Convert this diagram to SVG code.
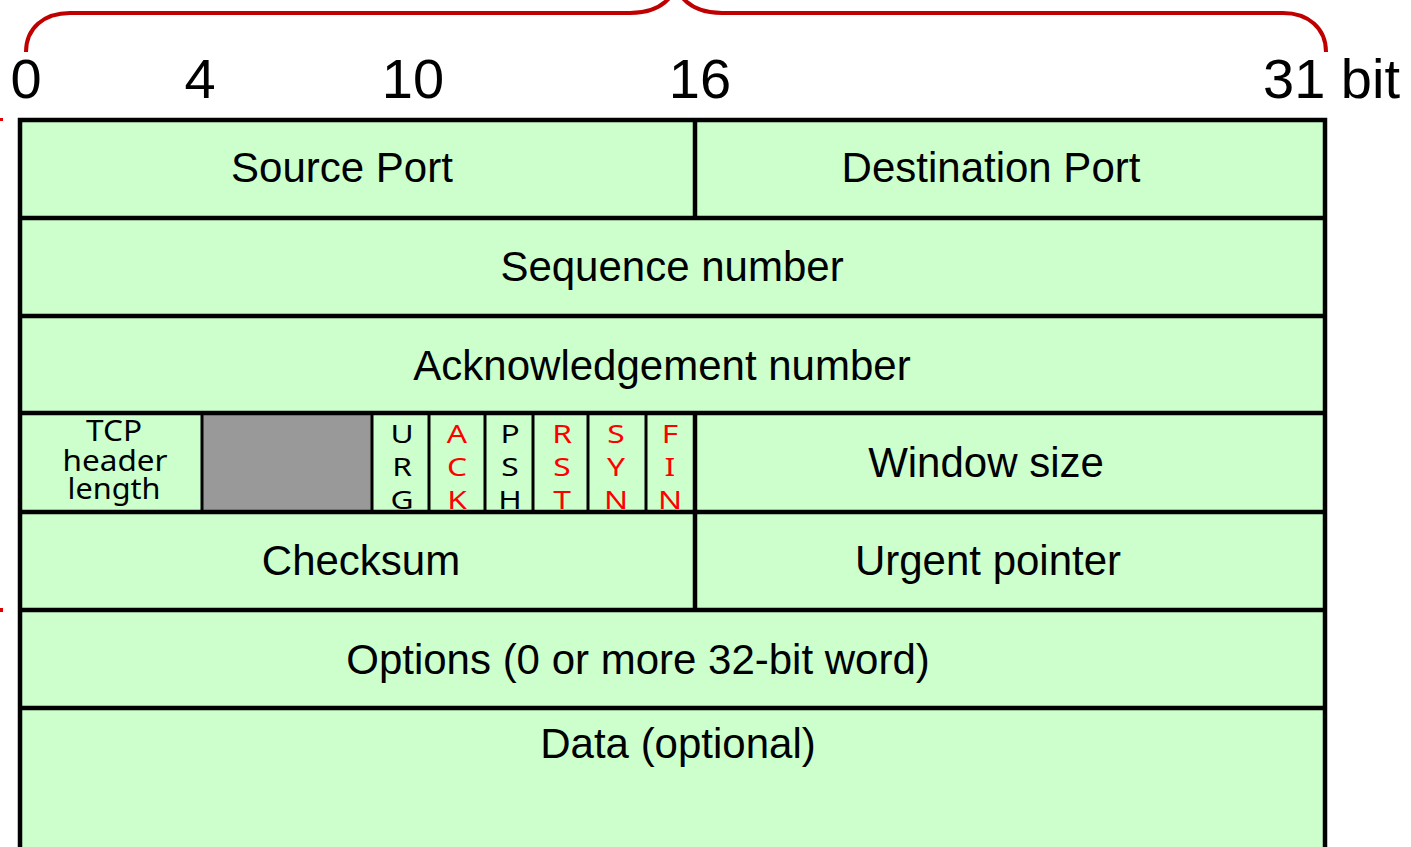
<svg xmlns="http://www.w3.org/2000/svg" width="1411" height="847" viewBox="0 0 1411 847">
  <style>
    .bg { fill: #ffffff; }
    .cell { fill: #ccffcc; }
    .frame { fill: none; stroke: #000000; stroke-width: 4.5; }
    .rule { stroke: #000000; stroke-width: 4.5; }
    .thin { stroke: #000000; stroke-width: 3; }
    .brace { fill: none; stroke: #c00000; stroke-width: 4; }
    .label { font-family: "Liberation Sans", Arial, sans-serif; font-size: 42px; fill: #000000; text-anchor: middle; }
    .bits { font-family: "Liberation Sans", Arial, sans-serif; font-size: 56px; fill: #000000; }
    .small { font-family: "Noto Sans", "Open Sans", sans-serif; font-size: 29px; fill: #000000; text-anchor: middle; }
    .flag { font-family: "Noto Sans", "Open Sans", sans-serif; font-size: 26px; text-anchor: middle; }
    .blk { fill: #000000; }
    .red { fill: #ff0000; }
  </style>

  <rect class="bg" x="0" y="0" width="1411" height="847"/>

  <!-- 32-bit span brace over the header -->
  <g id="brace">
    <path class="brace" d="M26,52 C26,28 44,13 70,13 L630,13 C652,13 668,4 676,-12 C684,4 700,13 722,13 L1283,13 C1308,13 1326,28 1326,52"/>
  </g>

  <!-- bit offsets -->
  <g id="bit-scale">
    <text class="bits" x="26" y="98" text-anchor="middle">0</text>
    <text class="bits" x="200" y="98" text-anchor="middle">4</text>
    <text class="bits" x="413" y="98" text-anchor="middle">10</text>
    <text class="bits" x="700" y="98" text-anchor="middle">16</text>
    <text class="bits" x="1263" y="98">31 bit</text>
  </g>

  <!-- small side marks -->
  <g id="side-marks">
    <rect x="0" y="118" width="3" height="3" fill="#e00000"/>
    <rect x="0" y="608" width="3" height="4" fill="#e00000"/>
  </g>

  <!-- header body -->
  <rect class="cell" x="20" y="120" width="1305" height="760"/>

  <g id="source-port">
    <text class="label" x="342" y="182">Source Port</text>
  </g>
  <g id="destination-port">
    <text class="label" x="991" y="182">Destination Port</text>
  </g>
  <g id="sequence-number">
    <text class="label" x="672" y="281">Sequence number</text>
  </g>
  <g id="acknowledgement-number">
    <text class="label" x="662" y="380">Acknowledgement number</text>
  </g>

  <!-- three tightly stacked lines in one text block -->
  <g id="header-length">
    <text class="small"><tspan x="114" y="441" textLength="56" lengthAdjust="spacingAndGlyphs">TCP</tspan><tspan x="115" y="471" textLength="105" lengthAdjust="spacingAndGlyphs">header</tspan><tspan x="114" y="499" textLength="93" lengthAdjust="spacingAndGlyphs">length</tspan></text>
  </g>

  <g id="reserved">
    <rect x="202" y="413" width="170" height="99" fill="#999999"/>
  </g>

  <!-- control flags, one column each -->
  <g id="flag-urg" class="flag blk" transform="translate(402 0) scale(1.22 1)">
    <text x="0" y="443">U</text><text x="0" y="476">R</text><text x="0" y="509">G</text>
  </g>
  <g id="flag-ack" class="flag red" transform="translate(457 0) scale(1.22 1)">
    <text x="0" y="443">A</text><text x="0" y="476">C</text><text x="0" y="509">K</text>
  </g>
  <g id="flag-psh" class="flag blk" transform="translate(510 0) scale(1.22 1)">
    <text x="0" y="443">P</text><text x="0" y="476">S</text><text x="0" y="509">H</text>
  </g>
  <g id="flag-rst" class="flag red" transform="translate(562 0) scale(1.22 1)">
    <text x="0" y="443">R</text><text x="0" y="476">S</text><text x="0" y="509">T</text>
  </g>
  <g id="flag-syn" class="flag red" transform="translate(616 0) scale(1.22 1)">
    <text x="0" y="443">S</text><text x="0" y="476">Y</text><text x="0" y="509">N</text>
  </g>
  <g id="flag-fin" class="flag red" transform="translate(670 0) scale(1.22 1)">
    <text x="0" y="443">F</text><text x="0" y="476">I</text><text x="0" y="509">N</text>
  </g>

  <g id="window-size">
    <text class="label" x="986" y="477">Window size</text>
  </g>
  <g id="checksum">
    <text class="label" x="361" y="575">Checksum</text>
  </g>
  <g id="urgent-pointer">
    <text class="label" x="988" y="575">Urgent pointer</text>
  </g>
  <g id="options">
    <text class="label" x="638" y="674">Options (0 or more 32-bit word)</text>
  </g>
  <g id="data">
    <text class="label" x="678" y="758">Data (optional)</text>
  </g>

  <!-- field borders -->
  <g id="grid">
    <line class="rule" x1="20" y1="218" x2="1325" y2="218"/>
    <line class="rule" x1="20" y1="316" x2="1325" y2="316"/>
    <line class="rule" x1="20" y1="413" x2="1325" y2="413"/>
    <line class="rule" x1="20" y1="512" x2="1325" y2="512"/>
    <line class="rule" x1="20" y1="610" x2="1325" y2="610"/>
    <line class="rule" x1="20" y1="708" x2="1325" y2="708"/>
    <line class="rule" x1="695" y1="120" x2="695" y2="218"/>
    <line class="rule" x1="695" y1="413" x2="695" y2="610"/>
    <line class="thin" x1="202" y1="413" x2="202" y2="512"/>
    <line class="thin" x1="372" y1="413" x2="372" y2="512"/>
    <line class="thin" x1="429" y1="413" x2="429" y2="512"/>
    <line class="thin" x1="485" y1="413" x2="485" y2="512"/>
    <line class="thin" x1="533" y1="413" x2="533" y2="512"/>
    <line class="thin" x1="588" y1="413" x2="588" y2="512"/>
    <line class="thin" x1="646" y1="413" x2="646" y2="512"/>
    <rect class="frame" x="20" y="120" width="1305" height="760"/>
  </g>
</svg>
